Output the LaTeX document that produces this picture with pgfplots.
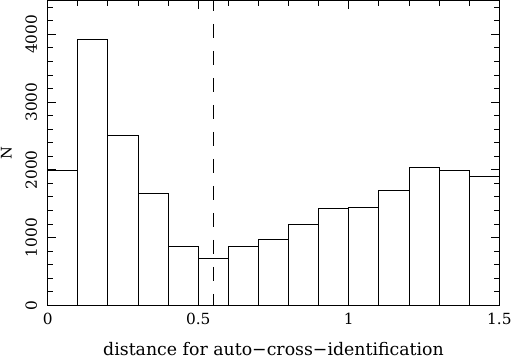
\documentclass[border=0pt]{standalone}
\usepackage{fontspec}
\setmainfont{DejaVu Serif}
\usepackage{pgfplots}
\pgfplotsset{compat=1.18}
\begin{document}
\begin{tikzpicture}
\path[use as bounding box] (-35.8pt,-41.0pt) rectangle (348.2pt,229.0pt);
\begin{axis}[
  at={(0pt,0pt)}, anchor=south west,
  scale only axis,
  width=338.7pt, height=228.6pt,
  xmin=0, xmax=1.5, ymin=0, ymax=4500,
  axis line style={line width=0.7pt},
  every tick/.style={line width=0.7pt, black},
  tick align=inside,
  xtick={0,0.5,1,1.5},
  xticklabels={0,0.5,1,1.5},
  minor xtick={0.1,0.2,0.3,0.4,0.6,0.7,0.8,0.9,1.1,1.2,1.3,1.4},
  ytick={0,1000,2000,3000,4000},
  minor ytick={200,400,600,800,1200,1400,1600,1800,2200,2400,2600,2800,3200,3400,3600,3800,4200,4400},
  major tick length=6.2pt,
  minor tick length=3.75pt,
  /pgf/number format/assume math mode=true,
  scaled y ticks=false,
  yticklabel={\pgfmathprintnumber[fixed,precision=0,1000 sep={}]{\tick}},
  ticklabel style={font=\fontsize{11.5}{13}\selectfont},
  yticklabel style={rotate=90, anchor=south},
  yticklabel shift=4.5pt,
  xticklabel shift=2pt,
  xlabel={distance for auto−cross−identification},
  ylabel={N},
  label style={font=\fontsize{11}{13}\selectfont},
  xlabel style={at={(axis description cs:0.5,0)}, anchor=base, inner sep=0pt, yshift=-38pt, font=\fontsize{13}{15}\selectfont},
  ylabel style={at={(axis description cs:0,0.5)}, anchor=center, rotate=0, xshift=0pt, yshift=31pt},
]
\addplot[ybar interval, draw=black, fill=none, line width=0.7pt] coordinates {
  (0.0,1995) (0.1,3923) (0.2,2507) (0.3,1652) (0.4,870) (0.5,693)
  (0.6,870) (0.7,973) (0.8,1199) (0.9,1430) (1.0,1445) (1.1,1700)
  (1.2,2040) (1.3,1991) (1.4,1907) (1.5,0)
};
\addplot[black, line width=0.7pt, dash pattern=on 11pt off 9.25pt, dash phase=2.8pt] coordinates {(0.55,4500) (0.55,0)};
\end{axis}
\end{tikzpicture}
\end{document}
